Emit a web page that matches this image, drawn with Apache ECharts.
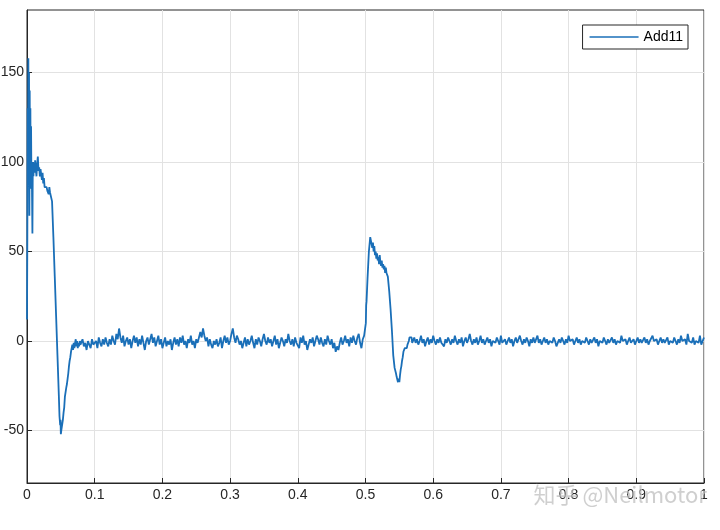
<!DOCTYPE html>
<html>
<head>
<meta charset="utf-8">
<script src="https://cdn.jsdelivr.net/npm/echarts@6/dist/echarts.min.js"></script>
<style>html,body{margin:0;padding:0;background:#fff}#c{width:720px;height:530px}</style>
</head>
<body>
<div id="c"></div>
<script>
// ---- data ----
const seriesName = 'Add11';
const xTicks = [0, 0.1, 0.2, 0.3, 0.4, 0.5, 0.6, 0.7, 0.8, 0.9, 1];
const yTicks = [-50, 0, 50, 100, 150];

// start transient: times and values
const startTimes = [0,0.0005,0.001,0.0015,0.002,0.0025,0.003,0.0035,0.004,0.0045,0.005,0.0055,0.006,0.0065,0.007,0.0075,0.008,0.0085,0.009,0.0095,
  0.010,0.011,0.012,0.013,0.014,0.015,0.016,0.017,0.018,0.019,0.020,0.021,0.022,0.023,0.024,0.025,0.026,0.027,0.028,0.029,
  0.030,0.031,0.032,0.033,0.034,0.035,0.036,0.037,0.039,0.041,0.043,0.045,0.047,0.048,0.049,0.0495,0.050,0.0505,0.051,0.052,
  0.053,0.054,0.055,0.056,0.057,0.058,0.059,0.060,0.061,0.062,0.063,0.064,0.065,0.066,0.067,0.068,0.069,0.070,0.071,0.072,
  0.073,0.074,0.075,0.076,0.077,0.078,0.079];
const startValues = [12,60,130,100,158,90,150,70,140,95,130,85,120,92,100,80,60,95,100,92,
  98,94,101,96,92,99,103,95,97,92,96,93,90,94,88,91,86,87,85,86,
  84,85,82,86,83,84,82,78,58,36,14,-8,-30,-42,-47,-44,-52,-53,-49,-48,
  -44,-40,-37,-31,-30,-26,-24,-21,-18,-14,-11,-9,-6,-5,-2,-5,-1,-4,-1,1,
  -3,0,-4,-1,-3,0,-2];

// steady noise 0.080 .. 0.498, sampled every 0.002 s
const noise1Start = 0.080;
const noise1Values = [
  -2,1,-3,-1,-5,0,-2,-4,1,-2,
  -3,0,-4,2,-1,-3,1,-2,2,-1,
  -3,1,-2,3,0,-2,4,1,7,2,
  -1,3,-3,0,2,-2,1,-4,0,3,
  -1,2,-3,1,-2,3,-1,-5,0,2,
  -2,1,4,-1,2,-3,0,3,-2,1,
  -4,-1,2,-3,0,-2,1,-5,-1,2,
  -2,1,-3,2,-1,3,-2,0,-4,1,
  -1,3,-2,0,-4,1,-1,2,5,2,
  7,3,0,2,-3,1,-2,-4,0,-2,
  1,-3,-1,2,-4,0,3,-1,2,-2,
  0,4,7,2,-1,3,1,-2,0,-4,
  -1,2,-3,1,-2,0,3,-1,-4,1,
  -2,2,0,-3,1,4,0,-2,2,-1,
  1,-3,0,3,-2,1,-4,-1,2,0,
  -3,1,-1,4,0,-2,1,-3,2,-1,
  0,-4,2,-1,3,-2,0,-5,-2,1,
  -1,2,-3,0,3,1,-2,2,-1,-3,
  1,-2,3,0,-2,1,-4,-1,-6,-3,
  -5,-1,2,-2,0,3,-1,1,-3,2,
  -1,3,0,-2,2,4,-1,-4,1,3];

// second transient at 0.5 s
const stepTimes = [0.500,0.5005,0.501,0.5015,0.503,0.505,0.507,0.508,0.509,0.510,0.511,0.512,0.513,0.514,0.515,0.516,0.517,0.518,0.519,0.520,
  0.521,0.522,0.523,0.524,0.525,0.526,0.527,0.528,0.529,0.530,0.531,0.532,0.533,0.535,0.537,0.539,0.541,0.543,0.545,0.546,
  0.547,0.548,0.549,0.550,0.551,0.552,0.553,0.554,0.555,0.556,0.557,0.558,0.559,0.560,0.561,0.562,0.563,0.564,0.565,0.566,
  0.567,0.568,0.569];
const stepValues = [4,10,20,22,35,50,58,56,57,52,55,50,53,48,50,46,49,45,47,43,
  48,44,42,45,41,43,40,42,38,41,38,37,36,28,18,6,-8,-15,-18,-20,
  -20,-23,-21,-23,-19,-16,-14,-11,-9,-6,-7,-4,-5,-3,-4,-2,-3,0,2,3,
  1,2,-1];

// steady noise 0.570 .. 1.000, sampled every 0.002 s
const noise2Start = 0.570;
const noise2Values = [
  0,2,-1,1,-2,0,3,-1,1,-3,
  0,2,-2,1,-1,3,0,-2,1,-1,
  2,-1,0,-3,1,-1,2,0,-2,1,
  -1,3,0,-2,1,-1,2,-3,0,2,
  -1,1,4,0,-2,1,-1,2,-2,0,
  3,-1,1,-2,0,2,-1,1,-3,0,
  1,-1,2,0,-2,3,-1,0,1,-2,
  0,2,-1,1,-3,0,2,-1,1,3,
  0,-2,1,-1,2,0,-3,1,-1,2,
  -1,0,3,-1,1,-2,0,2,-1,1,
  -2,0,1,-1,2,0,-3,-1,1,-1,
  2,0,-2,1,-1,3,0,-1,1,-2,
  0,2,-1,1,-2,0,1,-1,2,0,
  -2,1,-1,0,2,-1,1,-3,0,1,
  -1,2,0,-2,1,-1,0,2,-1,1,
  -2,0,1,-1,3,0,-1,1,-2,0,
  2,-1,0,1,-2,0,2,-1,1,-1,
  0,2,-1,1,-2,0,1,3,0,-1,
  1,-2,0,2,-1,1,-1,0,2,-2,
  0,1,-1,2,0,-2,1,-1,3,0,
  -1,1,-2,4,0,1,-1,2,-2,0,
  1,-1,3,-2,0,2];
const sampleStep = 0.002;

// ---- build series ----
const r = v => Math.round(v * 1e5) / 1e5;
const data = [];
startTimes.forEach((t, i) => data.push([t, startValues[i]]));
noise1Values.forEach((v, i) => data.push([r(noise1Start + i * sampleStep), v]));
stepTimes.forEach((t, i) => data.push([t, stepValues[i]]));
noise2Values.forEach((v, i) => data.push([r(noise2Start + i * sampleStep), v]));

const axisColor = '#262626';
const gridColor = '#e2e2e2';
const lineColor = '#1a6fb8';
const font = '"Liberation Sans", Arial, Helvetica, sans-serif';

const chart = echarts.init(document.getElementById('c'), null, {renderer: 'canvas'});
chart.setOption({
  animation: false,
  backgroundColor: '#fff',
  grid: {left: 27, right: 16, top: 10, bottom: 47, show: true, borderColor: axisColor, borderWidth: 1,
    backgroundColor: 'transparent', containLabel: false, outerBoundsMode: 'none'},
  legend: {
    data: [{name: seriesName, icon: 'rect', itemStyle: {color: lineColor}}],
    right: 32, top: 25, orient: 'vertical',
    backgroundColor: '#fff', borderColor: axisColor, borderWidth: 1, borderRadius: 0,
    padding: [5, 5, 5, 7], itemWidth: 49, itemHeight: 1.5,
    textStyle: {fontFamily: font, fontSize: 14, color: '#000'}
  },
  xAxis: {
    type: 'value', min: 0, max: 1, interval: 0.1,
    axisLine: {show: true, onZero: false, lineStyle: {color: axisColor, width: 1}},
    axisTick: {show: true, inside: true, length: 5, lineStyle: {color: axisColor}},
    axisLabel: {color: axisColor, fontFamily: font, fontSize: 14, margin: 5,
      customValues: xTicks, formatter: v => String(v)},
    splitLine: {show: true, lineStyle: {color: gridColor, width: 1}}
  },
  yAxis: {
    type: 'value', min: -79.3, max: 184.9,
    axisLine: {show: true, onZero: false, lineStyle: {color: axisColor, width: 1}},
    axisTick: {show: true, inside: true, length: 5, lineStyle: {color: axisColor}, customValues: yTicks},
    axisLabel: {color: axisColor, fontFamily: font, fontSize: 14, margin: 3, customValues: yTicks},
    splitLine: {show: true, lineStyle: {color: gridColor, width: 1}}
  },
  series: [{
    name: seriesName, type: 'line', data: data, symbol: 'none', showSymbol: false,
    lineStyle: {color: lineColor, width: 1.8}, itemStyle: {color: lineColor},
    z: 3
  }],
  graphic: [{
    type: 'text', left: 533, top: 483, z: 100, silent: true,
    style: {text: '知乎 @Neilmotor', fontSize: 22, fontFamily: '"Noto Sans CJK SC", "Noto Sans", sans-serif',
      fill: 'rgba(175,175,175,0.6)', stroke: 'rgba(255,255,255,0.5)', lineWidth: 1}
  }]
});
</script>
</body>
</html>
